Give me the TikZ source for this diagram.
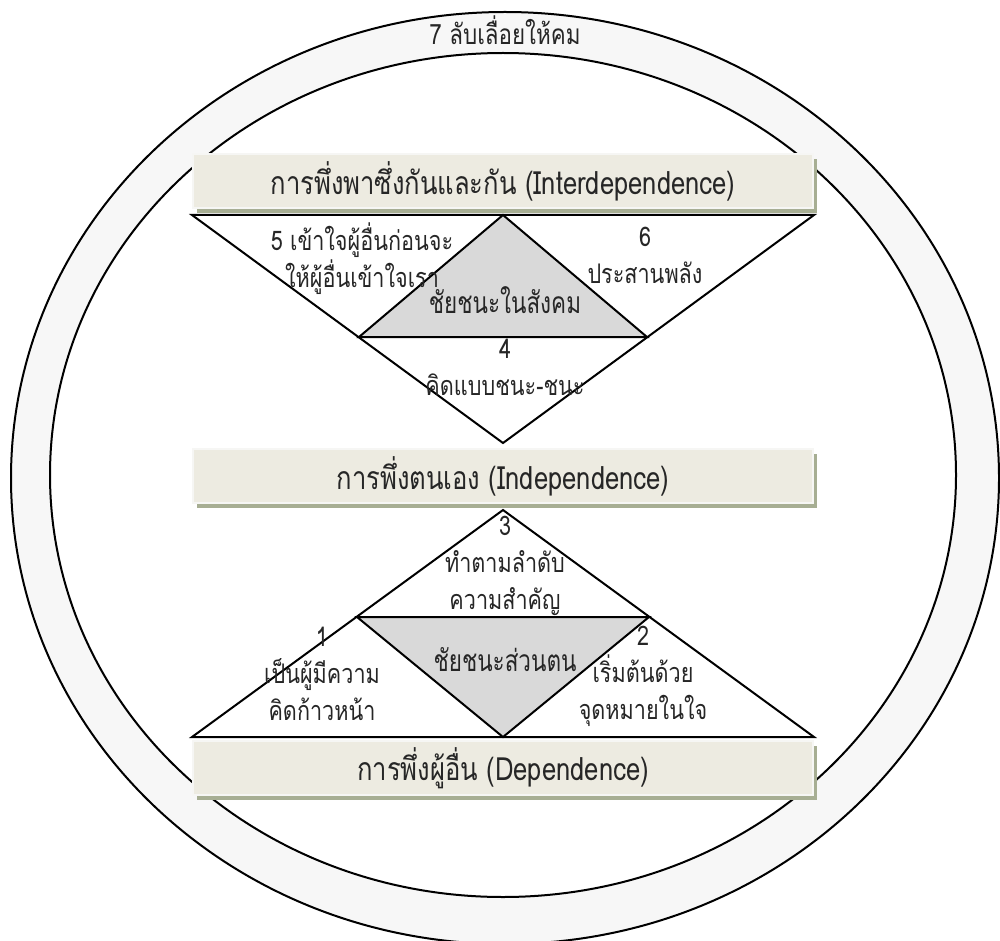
\documentclass[tikz,border=0pt]{standalone}
\usepackage{fontspec}
\setmainfont[Script=Thai]{Loma}
\newfontfamily\narrowthai[Script=Thai, FakeStretch=0.8]{Loma}
\newfontfamily\narrowerthai[Script=Thai, FakeStretch=0.75]{Loma}
\usetikzlibrary{shadows}
\definecolor{ringfill}{HTML}{F7F7F7}
\definecolor{winfill}{HTML}{D9D9D9}
\definecolor{bannerfill}{HTML}{EDEBE1}
\definecolor{bannerrim}{HTML}{F6F6F4}
\definecolor{bannershade}{HTML}{A7AE93}
\definecolor{ink}{HTML}{262626}
\tikzset{
  rim/.style={draw=black, line width=1pt},
  edge/.style={draw=black, line width=1pt, line join=miter},
  winpart/.style={fill=winfill, draw=black, line width=1pt, line join=miter},
  banner/.style={fill=bannerfill, draw=bannerrim, line width=1.2pt,
    minimum width=310pt, minimum height=27pt, inner sep=0pt, text=ink,
    general shadow={fill=bannershade, shadow xshift=2pt, shadow yshift=-2.5pt},
    font=\narrowthai\fontsize{16}{18}\selectfont},
  lbl/.style={font=\narrowthai\fontsize{13.5}{18.5}\selectfont, text=ink,
    align=center, inner sep=0pt},
  winlbl/.style={font=\narrowerthai\fontsize{15}{18}\selectfont, text=ink,
    inner sep=0pt},
}
\begin{document}
\begin{tikzpicture}[x=0.5pt, y=-0.5pt]
\useasboundingbox (0,0) rectangle (1000,941);

% outer ring
\path[rim, fill=ringfill] (505,478) ellipse [x radius=247pt, y radius=233pt];
\path[rim, fill=white] (503,475) ellipse [x radius=226.5pt, y radius=211pt];
\node[lbl, font=\narrowthai\fontsize{14}{18}\selectfont] (saw) at (505,30) {7 ลับเลื่อยให้คม};

% upper section: inverted triangle with social victory
\coordinate (ta) at (192,215);
\coordinate (tb) at (814,215);
\coordinate (tc) at (503,443);
\coordinate (ga) at (503,215);
\coordinate (gb) at (359,337);
\coordinate (gc) at (647,337);
\draw[edge] (ta) -- (tb) -- (tc) -- cycle;
\draw[winpart] (ga) -- (gc) -- (gb) -- cycle;

% lower section: upright triangle with private victory
\coordinate (ba) at (503,510);
\coordinate (bb) at (814,737);
\coordinate (bc) at (192,737);
\coordinate (ha) at (357,617);
\coordinate (hb) at (649,617);
\coordinate (hc) at (503,737);
\draw[edge] (ba) -- (bb) -- (bc) -- cycle;
\draw[winpart] (ha) -- (hb) -- (hc) -- cycle;

% banners
\node[banner] (inter) at (503,181) {การพึ่งพาซึ่งกันและกัน (Interdependence)};
\node[banner] (indep) at (503,476) {การพึ่งตนเอง (Independence)};
\node[banner] (dep) at (503,768) {การพึ่งผู้อื่น (Dependence)};

% habit labels, upper section
\node[lbl] (h5) at (362,259) {5 เข้าใจผู้อื่นก่อนจะ\\ให้ผู้อื่นเข้าใจเรา};
\node[lbl] (h6) at (645,255) {6\\ประสานพลัง};
\node[winlbl] (social) at (505,300) {ชัยชนะในสังคม};
\node[lbl] (h4) at (505,367) {4\\คิดแบบชนะ-ชนะ};

% habit labels, lower section
\node[lbl] (h3) at (505,566) {3\\ทำตามลำดับ\\ความสำคัญ};
\node[lbl] (h1) at (322,674) {1\\เป็นผู้มีความ\\คิดก้าวหน้า};
\node[winlbl] (private) at (505,660) {ชัยชนะส่วนตน};
\node[lbl] (h2) at (643,676) {2\\เริ่มต้นด้วย\\จุดหมายในใจ};
\end{tikzpicture}
\end{document}
